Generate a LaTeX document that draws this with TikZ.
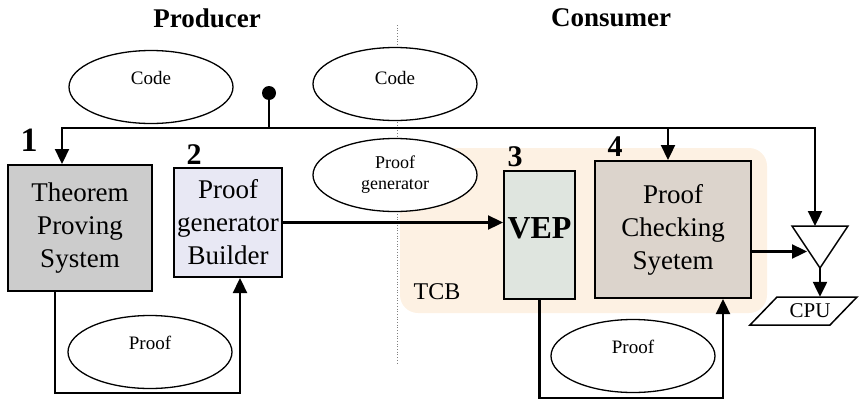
\documentclass[tikz,border=0pt]{standalone}
\usepackage{fontspec}
\setmainfont{Liberation Serif}
\usetikzlibrary{arrows.meta,shapes.geometric}
\definecolor{tpsgray}{HTML}{CCCCCC}
\definecolor{pgblue}{HTML}{E8E8F4}
\definecolor{vepgreen}{HTML}{DFE5DF}
\definecolor{pcsbeige}{HTML}{DCD4CC}
\definecolor{tcbpeach}{HTML}{FDF1E3}
\begin{document}
\begin{tikzpicture}[x=1pt,y=-1pt,
  box/.style={draw,line width=2pt,inner sep=1pt,align=center,font=\fontsize{27}{33}\selectfont},
  blob/.style={draw,ellipse,line width=1.3pt,fill=white,minimum width=164pt,minimum height=73pt,inner sep=0pt,align=center},
  conn/.style={line width=2.3pt},
  arr/.style={conn,-{Triangle[length=15pt,width=14pt]}},
  tag/.style={font=\bfseries\fontsize{30}{30}\selectfont}]
\useasboundingbox (0,0) rectangle (859,399);
% trusted computing base
\fill[tcbpeach,rounded corners=18pt] (400,148) rectangle (767,313);
\node[font=\fontsize{24}{24}\selectfont] (tcb) at (437,292) {TCB};
% producer / consumer divide
\draw[gray,dotted,line width=0.7pt] (397,25) -- (397,365);
\node[font=\bfseries\fontsize{27}{27}\selectfont] (prod) at (207,18) {Producer};
\node[font=\bfseries\fontsize{27}{27}\selectfont] (cons) at (611,18) {Consumer};
% data items
\node[blob,font=\fontsize{19}{19}\selectfont] (code1) at (151,87) {\raisebox{2.7pt}[0pt][0pt]{Code}};
\node[blob,font=\fontsize{19}{19}\selectfont] (code2) at (395,84) {\raisebox{0pt}[0pt][0pt]{Code}};
\node[blob,font=\fontsize{18}{21}\selectfont] (pgen) at (395,175) {Proof\\generator};
\node[blob,font=\fontsize{19}{19}\selectfont] (proof1) at (150,352) {\raisebox{2.7pt}[0pt][0pt]{Proof}};
\node[blob,font=\fontsize{19}{19}\selectfont] (proof2) at (633,356) {\raisebox{2.7pt}[0pt][0pt]{Proof}};
% components
\node[box,fill=tpsgray,minimum width=144pt,minimum height=126pt] (tps) at (80,228) {Theorem\\Proving\\System};
\node[box,fill=pgblue,minimum width=108pt,minimum height=109pt] (pgb) at (228,222.5) {Proof\\generator\\Builder};
\node[box,fill=vepgreen,minimum width=71pt,minimum height=128pt,font=\bfseries\fontsize{32}{32}\selectfont] (vep) at (539.5,235) {\raisebox{-3.5pt}[0pt][0pt]{VEP}};
\node[box,fill=pcsbeige,minimum width=156pt,minimum height=137pt] (pcs) at (673,229.5) {Proof\\Checking\\Syetem};
\node[tag,font=\bfseries\fontsize{34}{34}\selectfont] (n1) at (29,140) {1};
\node[tag] (n2) at (194,155) {2};
\node[tag] (n3) at (515,157) {3};
\node[tag] (n4) at (615,147) {4};
% output stage
\coordinate (gl) at (792,226);
\coordinate (gr) at (848,226);
\coordinate (gb) at (820,268);
\draw[line width=1.5pt] (gl) -- (gr) -- (gb) -- cycle;
\draw[line width=1.5pt] (750,325) -- (830,325) -- (857,297) -- (777,297) -- cycle;
\node[font=\fontsize{21}{21}\selectfont,minimum height=28pt,inner sep=0pt] (cpu) at (810,311) {CPU};
% bus
\node[circle,fill,inner sep=0pt,minimum size=14pt] (jack) at (269,93) {};
\coordinate (busL) at (62,128);
\coordinate (busR) at (815,128);
\draw[conn] (jack) -- (jack |- busL);
\draw[arr] (jack |- busL) -- (busL) -- (busL |- tps.north);
\draw[arr] (jack |- busL) -- (busR) -- (busR |- gl);
\draw[arr] ([xshift=-5pt]pcs.north |- busL) -- ([xshift=-5pt]pcs.north);
% flows
\draw[arr] ([xshift=-25pt]tps.south) -- ++(0,101) -| ([xshift=12pt]pgb.south);
\draw[arr] (pgb.east) -- (pgb.east -| vep.west);
\draw[arr] (vep.south) -- ++(0,98) -| ([xshift=50pt]pcs.south);
\draw[arr] ([yshift=-22pt]pcs.east) -- ++(55,0);
\draw[arr] (gb) -- (gb |- cpu.north);
\end{tikzpicture}
\end{document}
